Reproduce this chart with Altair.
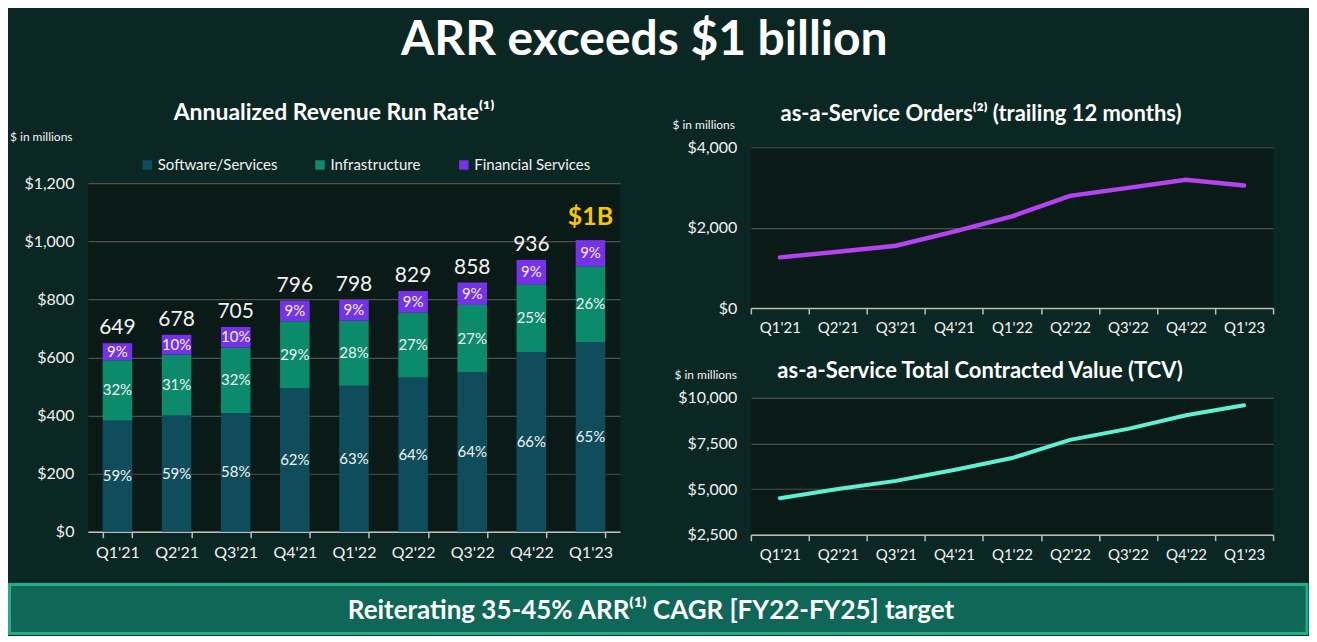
import altair as alt
import pandas as pd

# ---------------- data ----------------
quarters = ["Q1'21", "Q2'21", "Q3'21", "Q4'21", "Q1'22", "Q2'22", "Q3'22", "Q4'22", "Q1'23"]
arr_total = [649, 678, 705, 796, 798, 829, 858, 936, 1004]
arr_total_labels = ["649", "678", "705", "796", "798", "829", "858", "936", "$1B"]
arr_highlight = [False, False, False, False, False, False, False, False, True]
pct_software = [59, 59, 58, 62, 63, 64, 64, 66, 65]
pct_infra = [32, 31, 32, 29, 28, 27, 27, 25, 26]
pct_fin = [9, 10, 10, 9, 9, 9, 9, 9, 9]
segments = ["Software/Services", "Infrastructure", "Financial Services"]
segment_colors = ["#0f4d5d", "#0b8a6c", "#7632e8"]
orders_ttm = [1260, 1400, 1550, 1900, 2280, 2790, 2990, 3190, 3050]
tcv = [4500, 5000, 5450, 6050, 6700, 7700, 8300, 9050, 9600]
unit_text = ["$ in millions"]
banner_text = ["Reiterating 35-45% ARR\u207d\u00b9\u207e CAGR [FY22-FY25] target"]

FONT = "Lato"
WHITE = "#f2f2f2"
GRID = "#4f4f4f"
PLOT_FILL = "#091a17"
BG = "#0b2723"

rows = []
for i, q in enumerate(quarters):
    for k, (seg, pcts) in enumerate(zip(segments, [pct_software, pct_infra, pct_fin])):
        rows.append({"quarter": q, "segment": seg, "order": k, "pct": pcts[i],
                     "value": arr_total[i] * pcts[i] / 100.0, "label": f"{pcts[i]}%"})
df_bars = pd.DataFrame(rows)
df_tot = pd.DataFrame({"quarter": quarters, "total": arr_total, "label": arr_total_labels,
                       "highlight": arr_highlight})
df_orders = pd.DataFrame({"quarter": quarters, "value": orders_ttm})
df_tcv = pd.DataFrame({"quarter": quarters, "value": tcv})
df_unit = pd.DataFrame({"text": unit_text})
df_banner = pd.DataFrame({"text": banner_text})


def x_axis(fs):
    return alt.Axis(labelAngle=0, labelColor=WHITE, labelFont=FONT, labelFontSize=fs, labelPadding=7,
                    tickBand="extent", ticks=True, tickColor="#bdbdbd", tickSize=6, tickWidth=1.5,
                    domainColor="#bdbdbd", domainWidth=1.5, grid=False, title=None)


def y_axis(values, tx=None, ty=None):
    kw = dict(values=values, format="$,.0f", labelColor=WHITE, labelFont=FONT, labelFontSize=16,
              labelPadding=14, ticks=False, domain=False, grid=True, gridColor=GRID, gridWidth=1.2)
    if tx is None:
        kw["title"] = None
    else:
        kw.update(title="$ in millions", titleAngle=0, titleAlign="left", titleBaseline="middle",
                  titleX=tx, titleY=ty, titleColor=WHITE, titleFont=FONT, titleFontSize=12,
                  titleFontWeight="normal")
    return alt.Axis(**kw)


# ---------------- left: header + stacked bars ----------------
left_header = alt.Chart(df_unit).mark_text(
    font=FONT, fontSize=12, color=WHITE, align="left", baseline="middle"
).encode(x=alt.value(-78), y=alt.value(-10), text="text:N").properties(
    width=533, height=1,
    view=alt.ViewBackground(fill="transparent", strokeWidth=0),
    title=alt.TitleParams("Annualized Revenue Run Rate\u207d\u00b9\u207e", font=FONT, fontSize=23,
                          fontWeight="bold", color="white", anchor="middle", dx=-20, offset=6),
)

xq = alt.X("quarter:N", sort=quarters, scale=alt.Scale(paddingInner=0.5, paddingOuter=0.25), axis=x_axis(16))

base = alt.Chart(df_bars).transform_stack(
    stack="value", groupby=["quarter"], as_=["y0", "y1"], sort=[alt.SortField("order", "ascending")]
)
bars = base.mark_bar().encode(
    x=xq,
    y=alt.Y("y0:Q", scale=alt.Scale(domain=[0, 1200]), axis=y_axis([0, 200, 400, 600, 800, 1000, 1200])),
    y2="y1:Q",
    color=alt.Color("segment:N", scale=alt.Scale(domain=segments, range=segment_colors),
                    legend=alt.Legend(title=None, orient="none", legendX=52, legendY=10, direction="horizontal",
                                      columns=3, symbolType="square", symbolSize=90, symbolStrokeWidth=0,
                                      labelColor=WHITE, labelFont=FONT, labelFontSize=15, columnPadding=35,
                                      labelOffset=3)),
)
pct_text = base.transform_calculate(mid="(datum.y0 + datum.y1) / 2").mark_text(
    font=FONT, fontSize=15, color=WHITE, baseline="middle"
).encode(x=alt.X("quarter:N", sort=quarters), y="mid:Q", text="label:N")

tot_text = alt.Chart(df_tot).transform_filter("!datum.highlight").mark_text(
    font=FONT, fontSize=21, color=WHITE, baseline="bottom", dy=-5
).encode(x=alt.X("quarter:N", sort=quarters), y="total:Q", text="label:N")
hi_text = alt.Chart(df_tot).transform_filter("datum.highlight").mark_text(
    font=FONT, fontSize=25, fontWeight="bold", color="#f7c600", baseline="bottom", dy=-10
).encode(x=alt.X("quarter:N", sort=quarters), y="total:Q", text="label:N")

bars_chart = alt.layer(bars, pct_text, tot_text, hi_text).properties(
    width=533, height=349,
    view=alt.ViewBackground(fill=PLOT_FILL, strokeWidth=0),
)

left = alt.vconcat(left_header, bars_chart, spacing=27)

# ---------------- right: lines ----------------
xl = alt.X("quarter:N", sort=quarters, bandPosition=0.5,
           scale=alt.Scale(type="band", paddingInner=0, paddingOuter=0), axis=x_axis(15))

orders_chart = alt.Chart(df_orders).mark_line(color="#b443f2", strokeWidth=4.5, strokeCap="round").encode(
    x=xl,
    y=alt.Y("value:Q", scale=alt.Scale(domain=[0, 4000]), axis=y_axis([0, 2000, 4000], -79, -23)),
).properties(
    width=523, height=161,
    view=alt.ViewBackground(fill=PLOT_FILL, strokeWidth=0),
    title=alt.TitleParams("as-a-Service Orders\u207d\u00b2\u207e (trailing 12 months)", font=FONT, fontSize=22,
                          fontWeight="bold", color="white", anchor="middle", dx=-31, offset=-8),
)

tcv_chart = alt.Chart(df_tcv).mark_line(color="#5ef0d2", strokeWidth=4, strokeCap="round").encode(
    x=xl,
    y=alt.Y("value:Q", scale=alt.Scale(domain=[2500, 10000]),
            axis=y_axis([2500, 5000, 7500, 10000], -77, -23)),
).properties(
    width=523, height=137,
    view=alt.ViewBackground(fill=PLOT_FILL, strokeWidth=0),
    title=alt.TitleParams("as-a-Service Total Contracted Value (TCV)", font=FONT, fontSize=22,
                          fontWeight="bold", color="white", anchor="middle", dx=-32, offset=-14),
)

right = alt.vconcat(orders_chart, tcv_chart, spacing=24)

# ---------------- banner ----------------
banner_box = alt.Chart(df_banner).mark_rect(fill="#0f6757", stroke="#1fae88", strokeWidth=3).encode(
    x=alt.value(-78.5), x2=alt.value(1221), y=alt.value(0), y2=alt.value(49)
)
banner_label = alt.Chart(df_banner).mark_text(
    font=FONT, fontSize=26, fontWeight="bold", color="white", baseline="middle", align="center"
).encode(x=alt.value(564), y=alt.value(26), text="text:N")
banner = alt.layer(banner_box, banner_label).properties(
    width=1221, height=49,
    view=alt.ViewBackground(fill="transparent", strokeWidth=0),
)

chart = alt.vconcat(
    alt.hconcat(left, right, spacing=52),
    banner,
    spacing=20,
).properties(
    padding={"top": 9, "left": 0, "right": 0, "bottom": 0},
    title=alt.TitleParams("ARR exceeds $1 billion", font=FONT, fontSize=48, fontWeight="bold",
                          color="white", anchor="middle", dx=-14, offset=37),
).configure(background=BG, font=FONT).configure_view(strokeWidth=0)

chart.save("out.html", embed_options={"renderer": "svg", "actions": False})
